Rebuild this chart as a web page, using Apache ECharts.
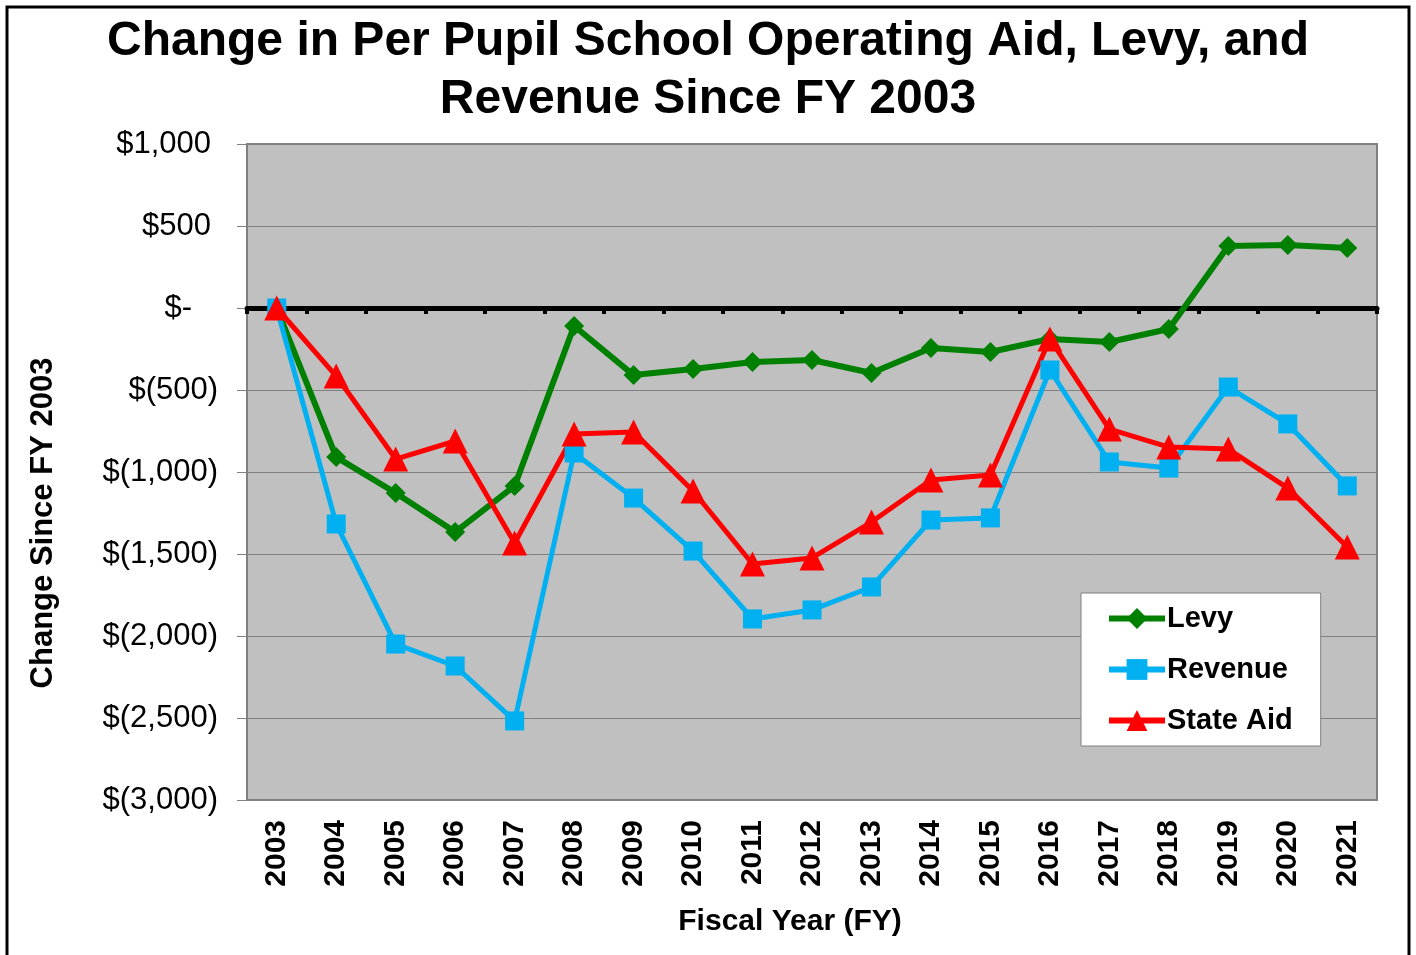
<!DOCTYPE html>
<html>
<head>
<meta charset="utf-8">
<script src="https://cdn.jsdelivr.net/npm/echarts@6/dist/echarts.min.js"></script>
<style>
html, body { margin: 0; padding: 0; background: #fff; }
#main { width: 1416px; height: 955px; }
</style>
</head>
<body>
<div id="main"></div>
<script>
var years = ['2003','2004','2005','2006','2007','2008','2009','2010','2011','2012',
             '2013','2014','2015','2016','2017','2018','2019','2020','2021'];
var levy = [0, -909, -1128, -1366, -1085, -110, -409, -372, -329, -317,
            -396, -244, -268, -189, -207, -128, 378, 384, 366];
var revenue = [0, -1317, -2049, -2183, -2518, -884, -1159, -1482, -1896, -1841,
               -1701, -1293, -1280, -378, -939, -976, -482, -707, -1085];
var stateAid = [0, -415, -921, -811, -1433, -768, -756, -1116, -1561, -1524,
                -1305, -1049, -1018, -189, -738, -848, -860, -1098, -1457];

var dom = document.getElementById('main');
var myChart = echarts.init(dom);

function money(v) {
    return String(v).replace(/\B(?=(\d{3})+(?!\d))/g, ',');
}

var font = '"Liberation Sans", Arial, sans-serif';

var option = {
    animation: false,
    backgroundColor: '#fff',
    title: {
        text: 'Change in Per Pupil School Operating Aid, Levy, and\nRevenue Since FY 2003',
        left: 'center',
        top: 8,
        textStyle: {
            fontFamily: font,
            fontSize: 48,
            fontWeight: 'bold',
            color: '#000',
            lineHeight: 58
        }
    },
    graphic: [{
        type: 'rect',
        shape: { x: 7, y: 7, width: 1402, height: 960 },
        style: { fill: 'none', stroke: '#000', lineWidth: 3 },
        silent: true
    }],
    legend: {
        orient: 'vertical',
        left: 1081,
        top: 593,
        data: ['Levy', 'Revenue', 'State Aid'],
        backgroundColor: '#fff',
        borderColor: '#808080',
        borderWidth: 1,
        padding: [11, 28, 11, 25],
        itemWidth: 56,
        itemHeight: 26,
        itemGap: 22,
        lineStyle: { width: 6 },
        textStyle: {
            fontFamily: font,
            fontSize: 29,
            fontWeight: 'bold',
            color: '#000',
            padding: [0, 0, 0, -3]
        }
    },
    grid: {
        left: 247,
        top: 144,
        right: 39,
        bottom: 155,
        show: true,
        backgroundColor: '#c0c0c0',
        borderColor: '#808080',
        borderWidth: 2
    },
    xAxis: [{
        type: 'category',
        data: years,
        name: 'Fiscal Year (FY)',
        nameLocation: 'middle',
        nameGap: 107,
        nameTextStyle: {
            fontFamily: font,
            fontSize: 30,
            fontWeight: 'bold',
            color: '#000',
            padding: [0, 44, 0, 0]
        },
        axisLine: { onZero: false, lineStyle: { color: '#808080', width: 2 } },
        axisTick: { show: false },
        axisLabel: {
            rotate: 90,
            margin: 20,
            fontFamily: font,
            fontSize: 30,
            fontWeight: 'bold',
            color: '#000'
        }
    }, {
        type: 'category',
        data: years,
        position: 'bottom',
        axisLine: { onZero: true, lineStyle: { color: '#000', width: 5 } },
        axisTick: { show: true, length: 6, lineStyle: { color: '#000', width: 4 } },
        axisLabel: { show: false }
    }],
    yAxis: {
        type: 'value',
        min: -3000,
        max: 1000,
        interval: 500,
        name: 'Change Since FY 2003',
        nameLocation: 'middle',
        nameGap: 188,
        nameTextStyle: {
            fontFamily: font,
            fontSize: 31,
            fontWeight: 'bold',
            color: '#000',
            padding: [0, 102, 0, 0]
        },
        axisLine: { show: true, lineStyle: { color: '#808080', width: 2 } },
        axisTick: { show: true, length: 10, lineStyle: { color: '#808080', width: 1 } },
        splitLine: { lineStyle: { color: '#808080', width: 1 } },
        axisLabel: {
            margin: 29,
            fontFamily: font,
            fontSize: 31,
            color: '#000',
            formatter: function (v) {
                if (v === 0) return '{z|$-}';
                if (v < 0) return '$(' + money(-v) + ')';
                return '{p|$' + money(v) + '}';
            },
            rich: {
                z: { fontFamily: font, fontSize: 31, color: '#000', padding: [0, 26, 0, 0] },
                p: { fontFamily: font, fontSize: 31, color: '#000', padding: [0, 7, 0, 0] }
            }
        }
    },
    series: [{
        name: 'Levy',
        type: 'line',
        data: levy,
        symbol: 'diamond',
        symbolSize: 20,
        color: '#008000',
        lineStyle: { width: 6, color: '#008000' },
        itemStyle: { color: '#008000' }
    }, {
        name: 'Revenue',
        type: 'line',
        data: revenue,
        symbol: 'rect',
        symbolSize: 19,
        color: '#00b0f0',
        lineStyle: { width: 5, color: '#00b0f0' },
        itemStyle: { color: '#00b0f0' }
    }, {
        name: 'State Aid',
        type: 'line',
        data: stateAid,
        symbol: 'triangle',
        symbolSize: 25,
        color: '#ff0000',
        lineStyle: { width: 5, color: '#ff0000' },
        itemStyle: { color: '#ff0000' }
    }]
};

myChart.setOption(option);
</script>
</body>
</html>
